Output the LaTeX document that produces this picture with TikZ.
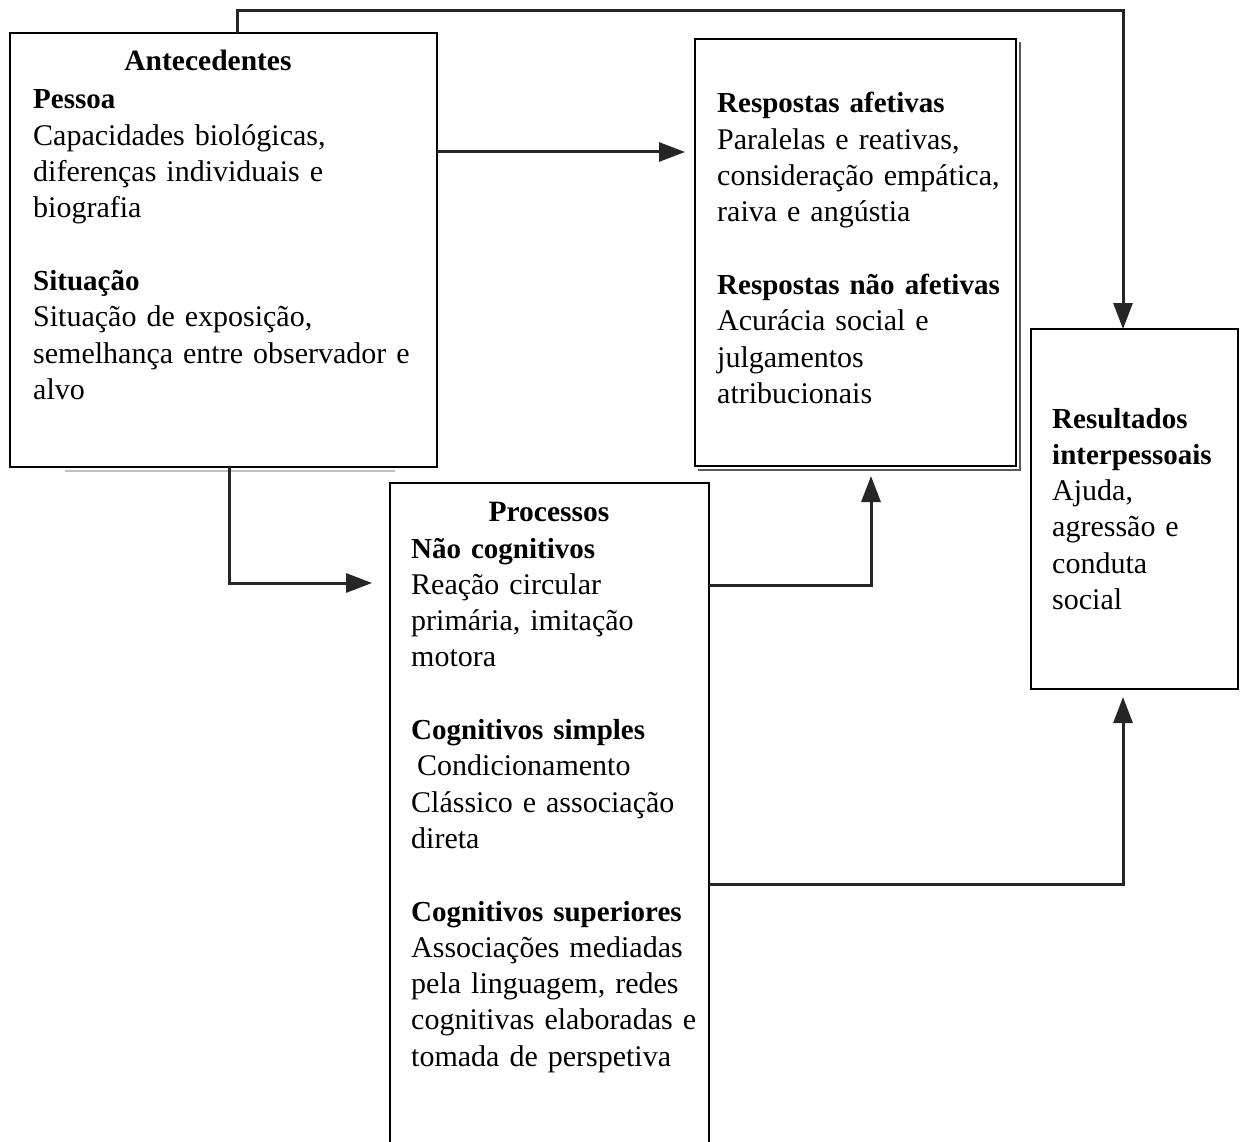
\documentclass[tikz,border=0pt]{standalone}
\usepackage{fontspec}
\setmainfont{Liberation Serif}
\usetikzlibrary{arrows.meta}
\newcommand\bhead[1]{{\fontsize{29}{36.3}\selectfont\bfseries #1}}
\begin{document}
\begin{tikzpicture}[x=1pt,y=-1pt,
  box/.style={draw=black, line width=2.9pt, anchor=north west, inner sep=0pt, outer sep=0pt},
  txt/.style={anchor=base west, inner sep=0pt, align=left, font=\fontsize{30}{36.3}\selectfont},
  head/.style={anchor=base, inner sep=0pt, font=\fontsize{29.5}{36.3}\selectfont\bfseries},
  conn/.style={draw=black!85, line width=3pt},
  arr/.style={-{Triangle[length=26pt,width=19pt]}},
  shadowline/.style={draw=black!65, line width=1.6pt},
]
\fill[white] (0,0) rectangle (1240,1142);
\useasboundingbox (0,0) rectangle (1240,1142);

% boxes
\node[box, minimum width=427pt, minimum height=434pt] (ante) at (10,33) {};
\node[box, minimum width=321pt, minimum height=427pt] (resp) at (695,39) {};
\node[box, minimum width=207pt, minimum height=360pt] (res) at (1031,329) {};
\node[box, minimum width=319pt, minimum height=700pt] (proc) at (390,483) {};

% shadows
\draw[shadowline] ([shift={(4,3)}]resp.north east) -- ([shift={(4,4)}]resp.south east) -- ([shift={(3,4)}]resp.south west);
\draw[draw=black!25, line width=1.2pt] ([shift={(55,4)}]ante.south west) -- ([shift={(-42,4)}]ante.south east);

% texts
\node[head] (anteH) at (208,71) {Antecedentes};
\node[txt, text width=400pt] (anteT) at (33,109) {\bhead{Pessoa}\\Capacidades biológicas,\\diferenças individuais e\\biografia\\[36.3pt]\bhead{Situação}\\Situação de exposição,\\semelhança entre observador e\\alvo};

\node[txt, text width=300pt] (respT) at (717,113) {\bhead{Respostas afetivas}\\Paralelas e reativas,\\consideração empática,\\raiva e angústia\\[36.3pt]\bhead{Respostas não afetivas}\\Acurácia social e\\julgamentos\\atribucionais};

\node[txt, text width=190pt] (resT) at (1052,428) {\bhead{Resultados}\\\bhead{interpessoais}\\Ajuda,\\agressão e\\conduta\\social};

\node[head] (procH) at (549,521) {Processos};
\node[txt, text width=300pt] (procT) at (411,558) {\bhead{Não cognitivos}\\Reação circular\\primária, imitação\\motora\\[36.3pt]\bhead{Cognitivos simples}\\\hspace*{6pt}Condicionamento\\Clássico e associação\\direta\\[36.3pt]\bhead{Cognitivos superiores}\\Associações mediadas\\pela linguagem, redes\\cognitivas elaboradas e\\tomada de perspetiva};

% connectors
\coordinate (ta) at (237,11);
\coordinate (tb) at (1123,11);
\draw[conn,arr] (ta |- ante.north) -- (ta) -- (tb) -- (tb |- res.north);

\coordinate (a1) at (437,152);
\coordinate (a2) at (685,152);
\draw[conn,arr] (ante.east |- a1) -- (a2);

\coordinate (b1) at (229,583);
\coordinate (b2) at (372,583);
\draw[conn,arr] (b1 |- ante.south) -- (b1) -- (b2);

\coordinate (c1) at (871,585);
\coordinate (c2) at (871,476);
\draw[conn,arr] (proc.east |- c1) -- (c1) -- (c2);

\coordinate (d1) at (1123,884);
\coordinate (d2) at (1123,697);
\draw[conn,arr] (proc.east |- d1) -- (d1) -- (d2);
\end{tikzpicture}
\end{document}
